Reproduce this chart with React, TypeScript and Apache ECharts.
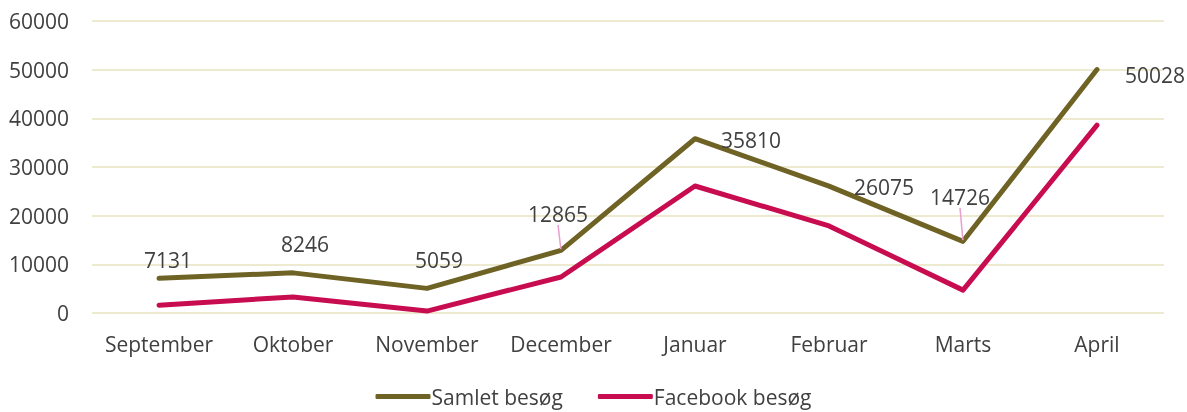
import React, { useEffect, useRef } from "react";
import * as echarts from "echarts";

const categories = ["September", "Oktober", "November", "December", "Januar", "Februar", "Marts", "April"];
const samlet = [7131, 8246, 5059, 12865, 35810, 26075, 14726, 50028];
const facebook = [1600, 3300, 400, 7400, 26100, 17900, 4700, 38600];
const labelOffsets: [number, number][] = [
  [9, -18],
  [12, -29],
  [12, -28],
  [-3, -36],
  [56, 1],
  [55, 1],
  [-3, -44],
  [58, 5],
];
const leaderIdx = [3, 6];

export default function App() {
  const ref = useRef<HTMLDivElement>(null);
  useEffect(() => {
    const chart = echarts.init(ref.current!, null, { renderer: "svg" });
    const font = "'Open Sans', 'Noto Sans', sans-serif";
    chart.setOption({
      animation: false,
      textStyle: { fontFamily: font },
      grid: { left: 92, right: 23, top: 21, bottom: 99, containLabel: false },
      legend: {
        bottom: 0,
        left: "center",
        itemWidth: 55,
        itemHeight: 5,
        itemGap: 35,
        icon: "roundRect",
        textStyle: { fontSize: 21, color: "#404040", fontFamily: font, padding: [0, 0, 0, -4] },
        data: ["Samlet besøg", "Facebook besøg"],
      },
      xAxis: {
        type: "category",
        data: categories,
        boundaryGap: true,
        axisLine: { show: false },
        axisTick: { show: false },
        axisLabel: { fontSize: 21, color: "#404040", margin: 20, fontFamily: font, interval: 0 },
      },
      yAxis: {
        type: "value",
        min: 0,
        max: 60000,
        interval: 10000,
        axisLine: { show: false },
        axisTick: { show: false },
        axisLabel: {
          fontSize: 21,
          color: "#404040",
          margin: 23,
          fontFamily: font,
          formatter: (v: number) => String(v),
        },
        splitLine: { lineStyle: { color: "#eeead0", width: 2 } },
      },
      series: [
        {
          name: "Samlet besøg",
          type: "line",
          data: samlet.map((v, i) => ({
            value: v,
            label: { offset: labelOffsets[i] },
            labelLine: leaderIdx.includes(i)
              ? { show: true, lineStyle: { color: "#e9a0cf", width: 1.5 } }
              : { show: false },
          })),
          symbol: "circle",
          symbolSize: 2,
          color: "#6e6324",
          lineStyle: { width: 5, color: "#6e6324", cap: "round", join: "round" },
          label: {
            show: true,
            position: "inside",
            fontSize: 21,
            color: "#404040",
            fontFamily: font,
            textBorderWidth: 0,
          },
          z: 3,
        },
        {
          name: "Facebook besøg",
          type: "line",
          data: facebook,
          symbol: "none",
          color: "#c80c50",
          lineStyle: { width: 5, color: "#c80c50", cap: "round", join: "round" },
          z: 2,
        },
      ],
    });
    return () => chart.dispose();
  }, []);
  return (
    <div
      ref={ref}
      style={{ position: "fixed", left: 0, top: 0, width: 1187, height: 412 }}
    />
  );
}
